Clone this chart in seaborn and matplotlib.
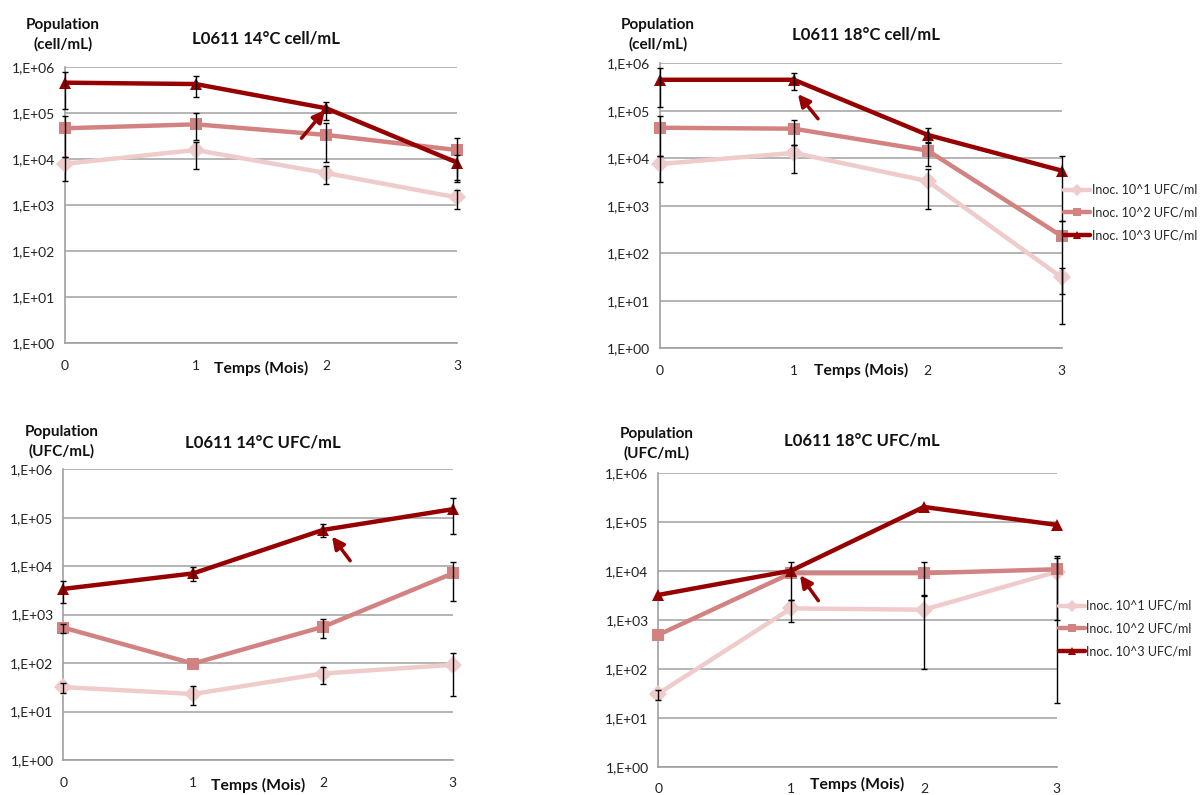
import numpy as np
import pandas as pd
import matplotlib
matplotlib.use("Agg")
import matplotlib.pyplot as plt
import seaborn as sns
from matplotlib.ticker import FuncFormatter, FixedLocator, NullLocator

sns.set_theme(style="white")
plt.rcParams['font.family'] = ['Lato', 'DejaVu Sans']

months = [0, 1, 2, 3]
series = ["Inoc. 10^1 UFC/ml", "Inoc. 10^2 UFC/ml", "Inoc. 10^3 UFC/ml"]
colors = ["#EFCBCB", "#D38282", "#960000"]
markers = ["D", "s", "^"]

titles = ["L0611 14°C cell/mL", "L0611 18°C cell/mL", "L0611 14°C UFC/mL", "L0611 18°C UFC/mL"]
ylabels = ["Population\n(cell/mL)", "Population\n(cell/mL)", "Population\n(UFC/mL)", "Population\n(UFC/mL)"]
xlabel = "Temps (Mois)"
nan = np.nan

# Panel 1: 14°C cell/mL
p1_s1 = [7.8e3, 1.55e4, 4.9e3, 1.45e3]
p1_s1_lo = [3.3e3, 5.9e3, 2.9e3, 8.2e2]
p1_s1_hi = [1.1e4, 2.3e4, 7.1e3, 2.1e3]
p1_s2 = [4.6e4, 5.6e4, 3.3e4, 1.55e4]
p1_s2_lo = [1.1e4, 2.6e4, 8.5e3, 3.5e3]
p1_s2_hi = [8.3e4, 9.7e4, 5.9e4, 2.8e4]
p1_s3 = [4.5e5, 4.2e5, 1.25e5, 8.3e3]
p1_s3_lo = [1.2e5, 2.2e5, 7.0e4, 3.2e3]
p1_s3_hi = [7.8e5, 6.3e5, 1.7e5, 1.2e4]

# Panel 2: 18°C cell/mL
p2_s1 = [7.6e3, 1.3e4, 3.3e3, 31]
p2_s1_lo = [3.2e3, 5.0e3, 8.5e2, 3.2]
p2_s1_hi = [1.1e4, 1.9e4, 6.0e3, 49]
p2_s2 = [4.4e4, 4.2e4, 1.45e4, 2.3e2]
p2_s2_lo = [1.1e4, 1.9e4, 6.9e3, 14]
p2_s2_hi = [7.6e4, 6.5e4, 2.2e4, 4.7e2]
p2_s3 = [4.5e5, 4.5e5, 3.1e4, 5.5e3]
p2_s3_lo = [1.2e5, 2.7e5, 2.1e4, 4.7e2]
p2_s3_hi = [7.8e5, 6.3e5, 4.4e4, 1.1e4]

# Panel 3: 14°C UFC/mL
p3_s1 = [32, 23, 61, 92]
p3_s1_lo = [24, 13.6, 37, 21]
p3_s1_hi = [38, 34, 85, 165]
p3_s2 = [540, 98, 560, 7.1e3]
p3_s2_lo = [420, nan, 330, 1.9e3]
p3_s2_hi = [650, nan, 820, 1.2e4]
p3_s3 = [3.4e3, 7.1e3, 5.6e4, 1.5e5]
p3_s3_lo = [1.7e3, 5.0e3, 4.0e4, 4.6e4]
p3_s3_hi = [5.0e3, 9.8e3, 7.3e4, 2.5e5]

# Panel 4: 18°C UFC/mL
p4_s1 = [31, 1.7e3, 1.6e3, 9.5e3]
p4_s1_lo = [23, 910, 100, 20]
p4_s1_hi = [37, 2.5e3, 3.2e3, 1.8e4]
p4_s2 = [490, 8.9e3, 8.9e3, 1.07e4]
p4_s2_lo = [nan, 2.5e3, 3.1e3, 1.0e3]
p4_s2_hi = [nan, 1.5e4, 1.5e4, 2.0e4]
p4_s3 = [3.2e3, 1.0e4, 2.0e5, 8.6e4]
p4_s3_lo = [nan, nan, nan, nan]
p4_s3_hi = [nan, nan, nan, nan]

# arrows (tail -> head) in data coords: (x_tail, y_tail, x_head, y_head)
arrows = [
    (1.81, 2.8e4, 1.99, 1.15e5),
    (1.18, 6.8e4, 1.03, 2.25e5),
    (2.21, 1.3e4, 2.07, 4.1e4),
    (1.205, 2.45e3, 1.067, 8.1e3),
]

panels = [
    ([p1_s1, p1_s2, p1_s3], [p1_s1_lo, p1_s2_lo, p1_s3_lo], [p1_s1_hi, p1_s2_hi, p1_s3_hi]),
    ([p2_s1, p2_s2, p2_s3], [p2_s1_lo, p2_s2_lo, p2_s3_lo], [p2_s1_hi, p2_s2_hi, p2_s3_hi]),
    ([p3_s1, p3_s2, p3_s3], [p3_s1_lo, p3_s2_lo, p3_s3_lo], [p3_s1_hi, p3_s2_hi, p3_s3_hi]),
    ([p4_s1, p4_s2, p4_s3], [p4_s1_lo, p4_s2_lo, p4_s3_lo], [p4_s1_hi, p4_s2_hi, p4_s3_hi]),
]

W, H = 1201, 795
# axes boxes in pixels: left, right, top, bottom
boxes = [
    (65, 457, 66.7, 343),
    (660, 1061.7, 63.3, 348.3),
    (63.3, 452.7, 469.3, 760),
    (658.3, 1056.7, 472.7, 766.7),
]
xlabel_y = [368, 370, 785, 784]
ylabel_y = [35, 35, 442, 444]
title_y = [39, 34, 443, 441]
legend_pos = [None, (1064, 198), None, (1059, 614)]

fig = plt.figure(figsize=(W / 100, H / 100), dpi=100)

def fmt(v, pos):
    e = int(round(np.log10(v)))
    return "1,E+%02d" % e

for i, (vals, los, his) in enumerate(panels):
    l, r, t, b = boxes[i]
    ax = fig.add_axes([l / W, 1 - b / H, (r - l) / W, (b - t) / H])
    rows = []
    for s, v in zip(series, vals):
        for m, y in zip(months, v):
            rows.append({"mois": m, "val": y, "serie": s})
    df = pd.DataFrame(rows)
    sns.lineplot(data=df, x="mois", y="val", hue="serie", style="serie",
                 palette=dict(zip(series, colors)), markers=dict(zip(series, markers)),
                 dashes=False, linewidth=3.2, markersize=9, markeredgewidth=0,
                 ax=ax, legend=False, clip_on=False, zorder=3)
    for v, lo, hi in zip(vals, los, his):
        v = np.array(v, float); lo = np.array(lo, float); hi = np.array(hi, float)
        mask = ~np.isnan(lo)
        ax.errorbar(np.array(months)[mask], v[mask],
                    yerr=[v[mask] - lo[mask], hi[mask] - v[mask]],
                    fmt="none", ecolor="black", elinewidth=1.0, capsize=2.5,
                    capthick=1.0, zorder=4, clip_on=False)
    ax.set_yscale("log")
    ax.set_ylim(1, 1e6)
    ax.set_xlim(0, 3)
    ax.yaxis.set_major_locator(FixedLocator([10.0 ** k for k in range(7)]))
    ax.yaxis.set_minor_locator(NullLocator())
    ax.yaxis.set_major_formatter(FuncFormatter(fmt))
    ax.set_xticks(months)
    ax.set_xticklabels([str(m) for m in months])
    ax.grid(axis="y", color="#A8A8A8", linewidth=1.2, zorder=0)
    ax.grid(axis="x", visible=False)
    for side in ["top", "right"]:
        ax.spines[side].set_visible(False)
    for side in ["left", "bottom"]:
        ax.spines[side].set_color("#A0A0A0")
        ax.spines[side].set_linewidth(1.2)
    ax.tick_params(axis="both", which="major", direction="out", length=4,
                   width=1, color="#A0A0A0", labelsize=10, labelcolor="#222222", pad=3)
    ax.tick_params(axis="x", pad=8)
    ax.set_xlabel("")
    ax.set_ylabel("")
    ax.set_title("")
    ax.set_facecolor("white")
    # title
    fig.text((l + r) / 2 / W + 0.004, 1 - title_y[i] / H, titles[i], ha="center", va="center",
             fontsize=12, fontweight="bold", color="#111111")
    # y label
    fig.text((l - 2) / W, 1 - ylabel_y[i] / H, ylabels[i], ha="center", va="center",
             fontsize=11, fontweight="bold", color="#111111", linespacing=1.4)
    # x label
    fig.text((l + r) / 2 / W, 1 - xlabel_y[i] / H, xlabel, ha="center", va="center",
             fontsize=11.3, fontweight="bold", color="#111111")
    # arrow
    xt, yt, xh, yh = arrows[i]
    ax.annotate("", xy=(xh, yh), xytext=(xt, yt),
                arrowprops=dict(arrowstyle="-|>,head_length=0.6,head_width=0.3",
                                color="#960000", lw=2.5, shrinkA=0, shrinkB=0),
                zorder=5)
    if legend_pos[i] is not None:
        lx, ly = legend_pos[i]
        handles = [plt.Line2D([0], [0], color=c, marker=mk, lw=3.2, markersize=6,
                              markeredgewidth=0) for c, mk in zip(colors, markers)]
        fig.legend(handles, series, loc="upper left",
                   bbox_to_anchor=(lx / W, 1 - (ly - 14) / H), frameon=False,
                   fontsize=9.0, handlelength=2.1, handletextpad=0.1,
                   labelspacing=0.85, borderaxespad=0, borderpad=0)

fig.savefig("out.png", dpi=100, facecolor="white")
